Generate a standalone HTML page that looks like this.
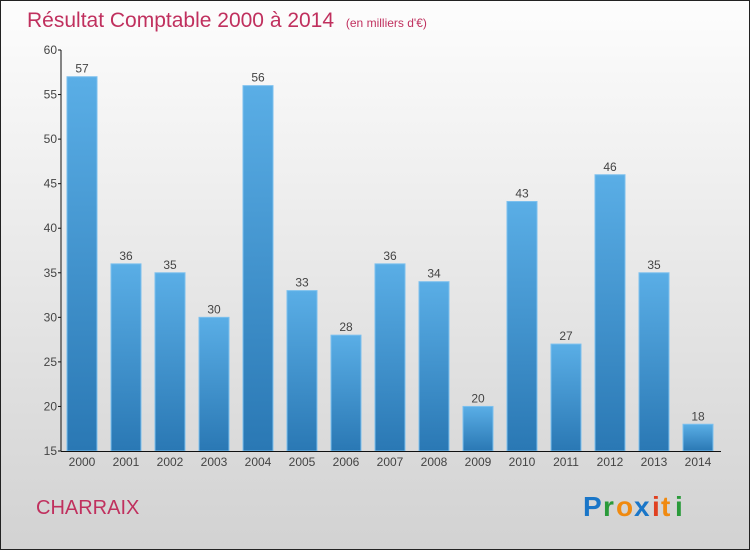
<!DOCTYPE html>
<html><head><meta charset="utf-8"><style>
html,body{margin:0;padding:0}
body{width:750px;height:550px;overflow:hidden;font-family:"Liberation Sans",sans-serif}
</style></head><body>
<svg id="chart" width="750" height="550" xmlns="http://www.w3.org/2000/svg">
<defs>
<linearGradient id="bg" x1="0" y1="0" x2="0" y2="1"><stop offset="0" stop-color="#fdfdfd"/><stop offset="1" stop-color="#d2d2d2"/></linearGradient>
<linearGradient id="bar" x1="0" y1="0" x2="0" y2="1"><stop offset="0" stop-color="#5aaee6"/><stop offset="1" stop-color="#2a78b4"/></linearGradient>
</defs>
<rect x="0.5" y="0.5" width="749" height="549" fill="url(#bg)" stroke="#222"/>
<text x="27" y="27" font-size="21" fill="#c0305e">Résultat Comptable 2000 à 2014 <tspan font-size="12" dx="6">(en milliers d'€)</tspan></text>
<g id="yaxis"></g>
<g id="bars"></g>
<g id="xaxis"></g>
<text x="36" y="514" font-size="20" fill="#c0305e">CHARRAIX</text>
<g font-size="28" font-weight="bold" font-family="'Liberation Sans',sans-serif">
<text x="583" y="516" fill="#1a76c8">P</text><text x="603" y="516" fill="#2a9a3a">r</text><text x="616" y="516" fill="#f08a10">o</text><text x="634" y="516" fill="#1a76c8">x</text><text x="652" y="516" fill="#e04020">i</text><text x="661" y="516" fill="#f08a10">t</text><text x="675" y="516" fill="#2a9a3a">i</text>
</g>
</svg>
<script>
const categories=["2000","2001","2002","2003","2004","2005","2006","2007","2008","2009","2010","2011","2012","2013","2014"];
const values=[57,36,35,30,56,33,28,36,34,20,43,27,46,35,18];
const yTicks=[15,20,25,30,35,40,45,50,55,60];
const NS="http://www.w3.org/2000/svg";
const y0=451,y1=50,vmin=15,vmax=60;
function yScale(v){return y0-(v-vmin)/(vmax-vmin)*(y0-y1);}
function xScale(i){return 82+i*44;}
function mk(tag,attrs,parent){const e=document.createElementNS(NS,tag);for(const k in attrs)e.setAttribute(k,attrs[k]);parent.appendChild(e);return e;}
const ya=document.getElementById('yaxis'),ba=document.getElementById('bars'),xa=document.getElementById('xaxis');
let l=mk('line',{x1:61,y1:y1,x2:61,y2:y0,stroke:'#111'},ya);

yTicks.forEach(t=>{const y=yScale(t);
 const tk=mk('line',{x1:58,y1:y,x2:61,y2:y,stroke:'#111'},ya);
 
 const tx=mk('text',{x:57,y:y+4,'text-anchor':'end','font-size':12,fill:'#444'},ya);
 tx.textContent=t;
 
});
let xl=mk('line',{x1:61,y1:y0+0.5,x2:721,y2:y0+0.5,stroke:'#111'},xa);

categories.forEach((c,i)=>{const cx=xScale(i),v=values[i],y=yScale(v);
 const r=mk('rect',{x:cx-15,y:y,width:30,height:y0-y,fill:'url(#bar)',stroke:'#7cc0ee','stroke-width':1},ba);
 
 const vt=mk('text',{x:cx,y:y-4,'text-anchor':'middle','font-size':12,fill:'#444'},ba);
 vt.textContent=v;
 
 const xt=mk('text',{x:cx,y:466,'text-anchor':'middle','font-size':12,fill:'#444'},xa);
 xt.textContent=c;
 
});
</script>
</body></html>
